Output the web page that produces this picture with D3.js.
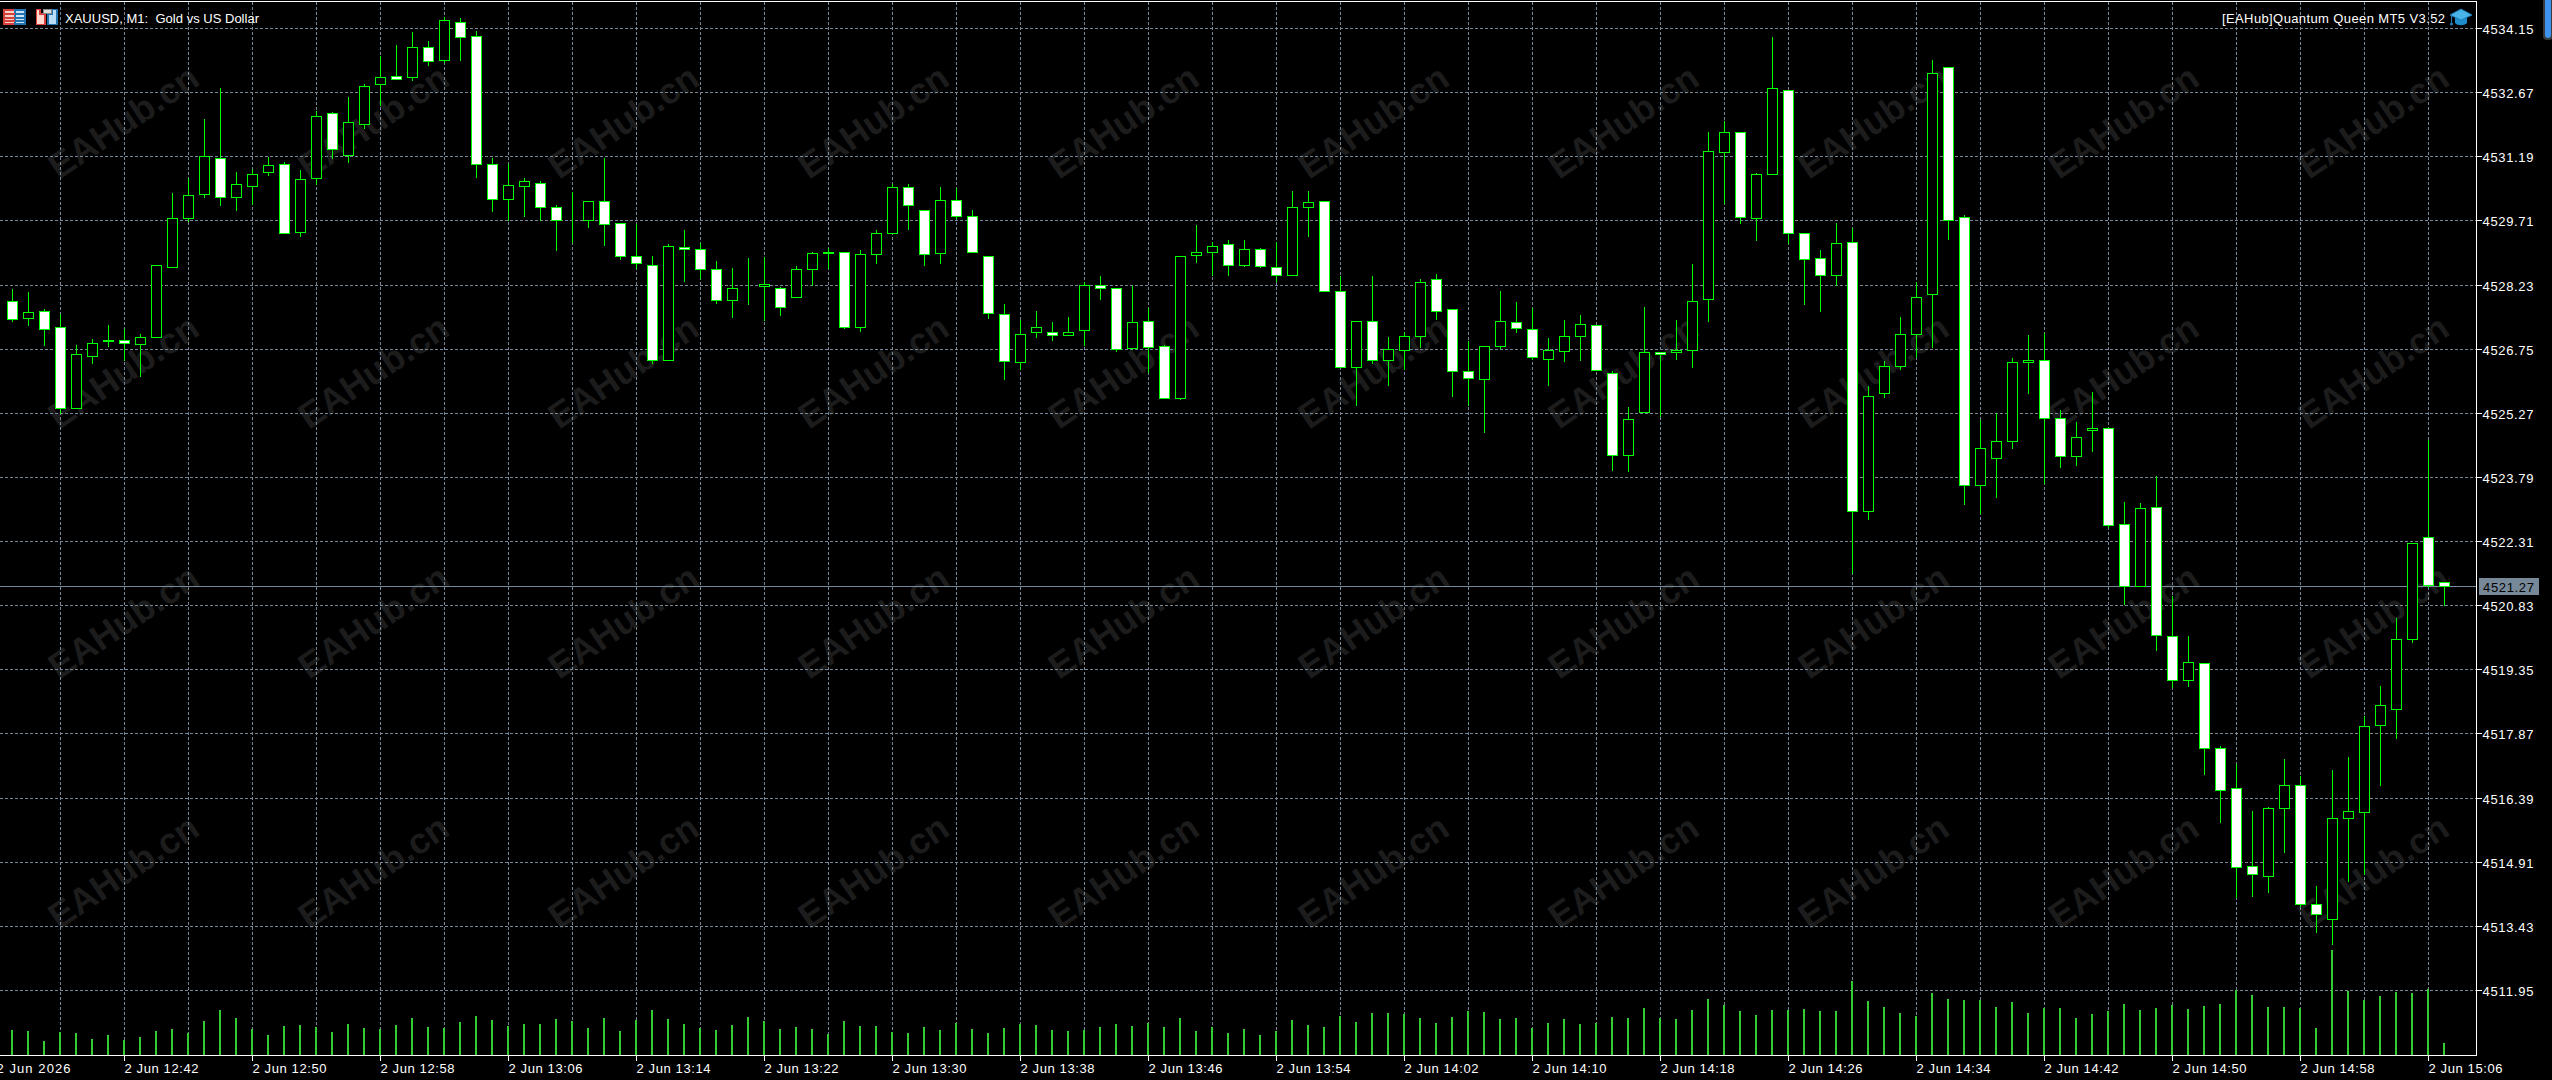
<!DOCTYPE html>
<html>
<head>
<meta charset="utf-8">
<script src="https://cdn.jsdelivr.net/npm/d3@7"></script>
<style>
html,body{margin:0;padding:0;background:#000;overflow:hidden}
svg{display:block}
text{font-family:"Liberation Sans",Arial,sans-serif}
</style>
</head>
<body>
<svg id="c" width="2552" height="1080"></svg>
<script>
const chartTitle = "XAUUSD, M1:  Gold vs US Dollar";
const expertName = "[EAHub]Quantum Queen MT5 V3.52";
const watermark = "EAHub.cn";
const currentPrice = 4521.27;
const priceTicks = [4534.15,4532.67,4531.19,4529.71,4528.23,4526.75,4525.27,4523.79,4522.31,4520.83,4519.35,4517.87,4516.39,4514.91,4513.43,4511.95];
const timeLabels = ["2 Jun 2026","2 Jun 12:42","2 Jun 12:50","2 Jun 12:58","2 Jun 13:06","2 Jun 13:14","2 Jun 13:22","2 Jun 13:30","2 Jun 13:38","2 Jun 13:46","2 Jun 13:54","2 Jun 14:02","2 Jun 14:10","2 Jun 14:18","2 Jun 14:26","2 Jun 14:34","2 Jun 14:42","2 Jun 14:50","2 Jun 14:58","2 Jun 15:06"];

const opens = [4527.88,
4527.86,4527.45,4527.61,4527.24,4525.38,4526.57,4526.93,4526.94,4526.86,4527.02,4528.63,4529.76,4530.31,4531.16,4530.26,4530.50,4530.82,4531.00,4529.44,4530.68,4532.18,4531.23,4531.93,4532.85,4533.05,4533.02,4533.72,4533.42,4534.29,4533.97,
4531.00,4530.20,4530.50,4530.58,4530.01,4529.72,4529.72,4530.15,4529.64,4528.88,4528.69,4526.49,4529.09,4529.04,4528.58,4527.87,4528.17,4528.19,4528.14,4527.94,4528.58,4528.95,4528.97,
4527.25,4528.93,4529.42,4530.48,4529.96,4528.96,4530.19,4529.80,4528.88,4527.55,4526.44,4527.13,4527.13,4527.06,4527.18,4528.21,4528.14,4526.76,4527.40,4526.80,4525.61,4528.91,4528.98,4529.16,4528.68,4529.06,
4528.63,4528.45,4530.02,4530.15,4528.07,4526.33,4527.38,4526.49,4526.72,4527.04,4528.35,4527.66,4526.23,4526.05,4526.81,4527.36,4527.20,4526.51,4526.70,4527.04,4527.29,4526.18,4524.30,4525.29,4526.67,4526.67,
4526.72,4527.90,4531.28,4531.74,4529.77,4530.77,4532.73,4529.41,4528.84,4528.45,4529.20,4523.00,4525.73,4526.35,4527.09,4528.01,4533.26,4529.78,4523.60,4524.23,4524.62,4526.44,4526.48,4525.14,4524.27,4524.87,
4524.92,4522.70,4521.28,4523.09,4520.11,4519.10,4519.49,4517.53,4516.61,4514.80,4514.58,4516.15,4516.67,4513.93,4513.59,4515.92,4516.06,4518.06,4518.44,4520.05,4522.40,4521.36];

const closes = [4527.87,
4527.43,4527.59,4527.20,4525.38,4526.63,4526.87,4526.94,4526.88,4527.02,4528.67,4529.76,4530.29,4531.19,4530.25,4530.54,4530.77,4530.98,4529.42,4530.66,4532.13,4531.35,4531.97,4532.82,4533.03,4532.97,4533.72,4533.39,4534.34,4533.95,4531.01,
4530.20,4530.52,4530.63,4530.02,4529.72,4529.72,4530.15,4529.62,4528.88,4528.72,4526.49,4529.11,4529.05,4528.58,4527.87,4528.14,4528.17,4528.25,4527.71,4528.58,4528.95,4528.97,4527.25,
4528.93,4529.42,4530.48,4530.06,4528.93,4530.17,4529.81,4528.98,4527.57,4526.46,4527.09,4527.25,4527.06,4527.13,4528.22,4528.15,4526.74,4527.36,4526.79,4525.61,4528.88,4528.99,4529.13,4528.68,4529.06,4528.66,
4528.45,4530.01,4530.13,4528.08,4526.33,4527.38,4526.49,4526.74,4527.04,4528.28,4527.62,4526.24,4526.07,4526.81,4527.38,4527.23,4526.56,4526.72,4527.04,4527.31,4526.26,4524.30,4525.12,4526.67,4526.63,4526.71,
4527.85,4531.32,4531.74,4529.79,4530.77,4532.76,4529.42,4528.82,4528.45,4529.18,4523.00,4525.65,4526.34,4527.08,4527.95,4533.12,4529.72,4523.60,4524.45,4524.61,4526.44,4526.49,4525.15,4524.27,4524.71,4524.92,
4522.68,4521.28,4523.07,4520.14,4519.10,4519.52,4517.54,4516.57,4514.79,4514.63,4516.15,4516.68,4513.94,4513.71,4515.92,4516.08,4518.04,4518.53,4520.04,4522.27,4521.29,4521.27];

const highs = [4528.20,
4528.15,4528.09,4527.69,4527.57,4526.86,4526.99,4527.33,4527.23,4527.11,4528.67,4530.36,4530.72,4532.07,4532.79,4530.84,4530.92,4531.19,4531.07,4530.89,4532.26,4532.23,4532.58,4532.88,4533.52,4533.78,4534.08,4533.88,4534.43,4534.40,4534.11,
4531.17,4531.03,4530.71,4530.64,4530.08,4530.38,4530.18,4531.17,4529.65,4529.65,4528.91,4529.18,4529.51,4529.21,4528.79,4528.63,4528.86,4528.90,4528.20,4528.68,4529.00,4529.09,4529.00,
4529.05,4529.51,4530.57,4530.57,4529.97,4530.50,4530.48,4529.97,4528.88,4527.80,4527.43,4527.64,4527.39,4527.50,4528.31,4528.45,4528.15,4528.22,4527.71,4526.86,4528.88,4529.63,4529.23,4529.28,4529.28,4529.09,
4529.24,4530.41,4530.41,4530.15,4528.45,4527.38,4528.45,4527.04,4527.15,4528.38,4528.50,4527.66,4526.96,4526.81,4528.10,4527.85,4527.71,4527.02,4527.44,4527.55,4527.29,4526.25,4525.43,4527.74,4526.67,4527.44,
4528.73,4531.77,4532.03,4531.74,4530.83,4533.96,4532.73,4529.41,4529.05,4529.67,4529.55,4525.91,4526.49,4527.50,4528.30,4533.43,4533.26,4529.85,4525.13,4525.28,4526.55,4527.09,4527.14,4525.35,4525.08,4525.77,
4524.96,4523.23,4523.20,4523.83,4521.07,4520.15,4519.50,4517.61,4517.18,4516.11,4516.19,4517.31,4516.91,4514.38,4517.05,4517.35,4518.29,4518.99,4520.55,4522.28,4524.66,4521.36];

const lows = [4527.70,
4527.38,4527.30,4526.84,4525.26,4525.38,4526.43,4526.80,4526.49,4526.13,4527.02,4528.63,4529.69,4530.26,4530.06,4529.94,4530.09,4530.76,4529.42,4529.36,4530.56,4531.14,4531.05,4531.85,4532.38,4532.97,4532.96,4533.29,4533.37,4533.42,4530.70,
4529.92,4529.72,4529.80,4529.71,4529.02,4529.21,4529.55,4529.15,4528.81,4528.62,4526.41,4526.49,4528.32,4528.37,4527.81,4527.49,4527.79,4527.41,4527.53,4527.94,4528.21,4528.62,4527.22,
4527.15,4528.72,4529.42,4529.50,4528.69,4528.72,4529.76,4528.98,4527.45,4526.06,4526.27,4527.01,4526.94,4527.06,4526.83,4527.89,4526.69,4526.74,4526.21,4525.61,4525.58,4528.76,4528.44,4528.44,4528.65,4528.63,
4528.30,4528.45,4529.34,4528.08,4526.33,4525.44,4526.41,4525.91,4526.27,4526.78,4527.43,4525.65,4525.44,4524.82,4526.76,4527.13,4526.51,4525.91,4526.46,4526.48,4526.26,4523.94,4523.92,4525.29,4525.20,4526.51,
4526.32,4527.40,4530.12,4529.64,4529.25,4530.77,4529.19,4527.77,4527.63,4528.21,4521.57,4522.81,4525.63,4526.27,4526.56,4526.78,4529.27,4523.16,4522.95,4523.33,4524.45,4525.72,4523.65,4524.03,4524.06,4524.40,
4522.64,4520.86,4521.28,4519.79,4518.95,4518.97,4516.93,4515.82,4514.09,4514.13,4514.21,4515.13,4513.89,4513.29,4513.00,4514.47,4514.63,4516.69,4517.76,4519.98,4521.25,4520.83];

const volumes = [60,
76,73,43,70,67,49,61,46,55,73,79,67,103,136,112,79,61,88,91,85,70,94,82,79,91,112,85,82,100,118,106,88,94,94,109,103,82,112,73,106,136,109,94,82,76,91,115,103,79,85,79,64,103,
88,88,70,67,85,76,97,79,67,82,94,91,76,73,76,85,94,88,97,85,112,73,85,67,79,61,73,106,91,85,118,100,127,127,124,112,97,115,133,130,109,112,83,97,109,94,97,115,112,142,112,109,136,
169,151,133,121,136,136,139,133,133,223,163,145,127,118,187,169,166,166,145,160,127,142,142,112,124,133,154,136,142,151,139,148,154,196,181,145,145,142,82,318,193,166,178,190,187,199,37];

const LIME = "#00ff00", VOL = "#32cd32", GRID = "#778899", FG = "#ffffff";
const R = 2476.5, B = 1055.5, T = 1.5;
const svg = d3.select("#c");
const bars = d3.range(opens.length);
const x = d3.scaleLinear().domain([0, opens.length - 1]).range([-3.5, 2444.5]);
const y = d3.scaleLinear().domain([priceTicks[0], priceTicks[priceTicks.length - 1]]).range([28.5, 990.5]);
const v = d3.scaleLinear().domain([0, d3.max(volumes)]).range([B, B - 106]);
const py = p => Math.floor(y(p)) + 0.5;

// watermark tiles
const wm = svg.append("g");
d3.range(0, 10).forEach(i => d3.range(0, 4).forEach(j => {
  wm.append("text").text(watermark)
    .attr("transform", `translate(${59 + 250 * i},${180 + 250 * j}) rotate(-34)`)
    .attr("font-size", 36).attr("font-weight", "bold").attr("fill", "#1c1c1c");
}));

// grid
const grid = svg.append("g").attr("stroke", GRID).attr("stroke-dasharray", "3 2").attr("shape-rendering", "crispEdges");
grid.selectAll("line.h").data(priceTicks).join("line").attr("class", "h")
  .attr("x1", 0).attr("x2", R).attr("y1", py).attr("y2", py);
const gridBars = bars.filter(i => i % 4 === 0 && i > 0);
grid.selectAll("line.v").data(gridBars).join("line").attr("class", "v")
  .attr("x1", x).attr("x2", x).attr("y1", T).attr("y2", B);

// volumes
svg.append("g").attr("shape-rendering", "crispEdges").selectAll("line").data(bars).join("line")
  .attr("x1", i => x(i) - 0.5).attr("x2", i => x(i) - 0.5)
  .attr("y1", B).attr("y2", i => v(volumes[i]))
  .attr("stroke", VOL).attr("stroke-width", 2);

// current price line
svg.append("line").attr("x1", 0).attr("x2", R).attr("y1", py(currentPrice)).attr("y2", py(currentPrice))
  .attr("stroke", GRID).attr("shape-rendering", "crispEdges");

// candles
const cg = svg.append("g").attr("shape-rendering", "crispEdges");
cg.selectAll("line").data(bars).join("line")
  .attr("x1", x).attr("x2", x)
  .attr("y1", i => py(highs[i])).attr("y2", i => py(lows[i]))
  .attr("stroke", LIME);
cg.selectAll("rect").data(bars).join("rect")
  .attr("x", i => x(i) - 5).attr("width", 10)
  .attr("y", i => py(Math.max(opens[i], closes[i])))
  .attr("height", i => py(Math.min(opens[i], closes[i])) - py(Math.max(opens[i], closes[i])))
  .attr("fill", i => closes[i] < opens[i] ? "#fff" : "#000")
  .attr("stroke", LIME);

// frame
const frame = svg.append("g").attr("stroke", FG).attr("shape-rendering", "crispEdges");
frame.append("line").attr("x1", 0).attr("x2", R).attr("y1", T).attr("y2", T);
frame.append("line").attr("x1", 0).attr("x2", R).attr("y1", B).attr("y2", B);
frame.append("line").attr("x1", R).attr("x2", R).attr("y1", T).attr("y2", B);

// price axis
const yAxis = d3.axisRight(y).tickValues(priceTicks).tickFormat(d3.format(".2f")).tickSize(5).tickSizeOuter(0).offset(0);
const ya = svg.append("g").attr("transform", `translate(${R},0)`).call(yAxis);
ya.select(".domain").remove();
ya.selectAll(".tick").attr("transform", d => `translate(0,${py(d)})`);
ya.selectAll(".tick line").attr("stroke", FG).attr("shape-rendering", "crispEdges");
ya.selectAll(".tick text").attr("x", 6).attr("y", 5.5).attr("dy", null).attr("fill", FG)
  .attr("font-size", 13).attr("font-family", "Liberation Sans").attr("textLength", 51).attr("lengthAdjust", "spacing");

// time axis
const labelBars = timeLabels.map((_, i) => i * 8);
const xAxis = d3.axisBottom(x).tickValues(labelBars).tickFormat(d => timeLabels[d / 8]).tickSize(5).tickSizeOuter(0).offset(0);
const xa = svg.append("g").attr("transform", `translate(0,${B})`).call(xAxis);
xa.select(".domain").remove();
xa.selectAll(".tick line").attr("stroke", FG).attr("shape-rendering", "crispEdges");
xa.selectAll(".tick text").attr("text-anchor", "start").attr("x", 0).attr("y", 17.5).attr("dy", null).attr("fill", FG)
  .attr("font-size", 13).attr("font-family", "Liberation Sans").attr("textLength", 74).attr("lengthAdjust", "spacing");

// current price tag
svg.append("rect").attr("x", 2479).attr("y", py(currentPrice) - 8.5).attr("width", 60).attr("height", 17).attr("fill", GRID);
svg.append("text").text(currentPrice.toFixed(2)).attr("x", 2483).attr("y", py(currentPrice) + 5.5)
  .attr("fill", "#000").attr("font-size", 13).attr("textLength", 51).attr("lengthAdjust", "spacing");

// titles
svg.append("text").text(chartTitle).attr("x", 65).attr("y", 22.5).attr("fill", FG).attr("font-size", 13)
  .attr("xml:space", "preserve").style("white-space", "pre").attr("textLength", 194).attr("lengthAdjust", "spacing");
svg.append("text").text(expertName).attr("x", 2222).attr("y", 22.5).attr("fill", FG).attr("font-size", 13)
  .attr("textLength", 223).attr("lengthAdjust", "spacing");

// toolbar icons
const ic = svg.append("g").attr("shape-rendering", "crispEdges");
ic.append("rect").attr("x", 4).attr("y", 10).attr("width", 11).attr("height", 14).attr("fill", "#ffd0c8").attr("stroke", "#d8403a").attr("stroke-width", 1.5);
ic.append("rect").attr("x", 15).attr("y", 10).attr("width", 10).attr("height", 14).attr("fill", "#c8e4f8").attr("stroke", "#2273b0").attr("stroke-width", 1.5);
[14, 18, 21].forEach(t => {
  ic.append("line").attr("x1", 5).attr("x2", 15).attr("y1", t).attr("y2", t).attr("stroke", "#d8403a").attr("stroke-width", 1.5);
  ic.append("line").attr("x1", 15).attr("x2", 25).attr("y1", t).attr("y2", t).attr("stroke", "#2273b0").attr("stroke-width", 1.5);
});
ic.append("path").attr("d", "M36.5 9.5H40V14H45V24.5H36.5Z").attr("fill", "#ffd8d0").attr("stroke", "#d8403a").attr("stroke-width", 1.5);
ic.append("path").attr("d", "M48 14H52V9.5H57V24.5H48Z").attr("fill", "#b8dcf8").attr("stroke", "#2273b0").attr("stroke-width", 1.5);
ic.append("rect").attr("x", 43).attr("y", 9).attr("width", 8).attr("height", 4).attr("fill", "#ddd").attr("stroke", "#888");

// expert cap icon
const cap = svg.append("g");
cap.append("path").attr("d", "M2455 18V23C2458 26 2464 26 2467 23V18Z").attr("fill", "#1f8ccc");
cap.append("path").attr("d", "M2450 15L2461 9L2472 15L2461 20Z").attr("fill", "#49b4e8").attr("stroke", "#1f7cb8");
cap.append("line").attr("x1", 2451.5).attr("x2", 2451.5).attr("y1", 15).attr("y2", 23).attr("stroke", "#1f7cb8");
cap.append("circle").attr("cx", 2451.5).attr("cy", 24).attr("r", 1.5).attr("fill", "#1f7cb8");

// window scrollbar fragment
svg.append("rect").attr("x", 2543).attr("y", -6).attr("width", 10).attr("height", 46).attr("rx", 4).attr("fill", "#3a3a3a");
svg.append("rect").attr("x", 2545).attr("y", -6).attr("width", 6).attr("height", 44).attr("rx", 3).attr("fill", "#3f93f0");
</script>
</body>
</html>
